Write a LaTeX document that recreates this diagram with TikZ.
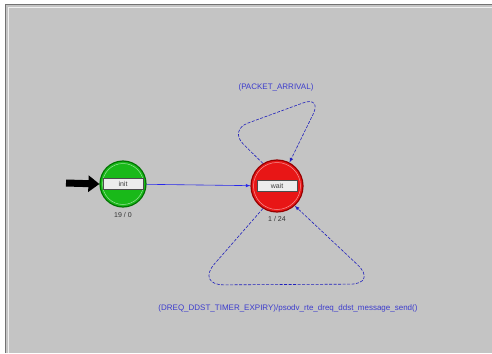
\documentclass[tikz,border=0pt]{standalone}
\usepackage{fontspec}
\setmainfont{Liberation Sans}
\usetikzlibrary{arrows.meta}

\definecolor{canvasGray}{RGB}{196,196,196}
\definecolor{initGreen}{RGB}{25,185,25}
\definecolor{initDark}{RGB}{0,115,0}
\definecolor{waitRed}{RGB}{232,22,22}
\definecolor{waitDark}{RGB}{150,0,0}
\definecolor{transBlue}{RGB}{40,40,235}
\definecolor{textBlue}{RGB}{60,60,205}

\begin{document}
\begin{tikzpicture}[> = latex, x = 1pt, y = -1pt,
	state/.style = {circle, minimum size = #1, inner sep = 0pt, line width = 1.2pt},
	labelbox/.style = {rectangle, draw = black!70, fill = white!85!gray, line width = 0.7pt,
		minimum width = 40pt, minimum height = 11pt, inner sep = 0pt, text = black!75, font = \fontsize{7}{7}\selectfont},
	count/.style = {font = \fontsize{7}{7}\selectfont, text = black!80},
	trans/.style = {transBlue, line width = 0.6pt},
	loopline/.style = {transBlue!80!black, line width = 0.6pt, dashed, dash pattern = on 3pt off 1.5pt},
	translabel/.style = {font = \fontsize{8}{8}\selectfont, text = textBlue, inner sep = 0pt}]

	% Definitions

	\def\W{492}
	\def\H{353}

	% Canvas

	\useasboundingbox (0, 0) rectangle (\W, \H);
	\fill [white] (0, 0) rectangle (\W, \H);
	\fill [canvasGray] (5, 4) rectangle (\W, \H);
	\draw [black!55, line width = 1pt] (5.5, \H) -- (5.5, 4.5) -- (\W, 4.5);
	\draw [white!88!gray, line width = 0.8pt] (8.5, \H) -- (8.5, 7.5) -- (\W, 7.5);

	% States

	\node [state = 46pt, fill = initGreen, draw = initDark] (init) at (123, 184) {};
	\draw [white!55!initGreen, line width = 0.5pt] (init) circle (20.5pt);
	\node [labelbox] (initLabel) at (init) {init};
	\node [count, below = 1pt] (initCount) at (init.south) {19 / 0};

	\node [state = 52pt, fill = waitRed, draw = waitDark] (wait) at (277, 186) {};
	\draw [white!55!waitRed, line width = 0.5pt] (wait) circle (23.5pt);
	\node [labelbox] (waitLabel) at (wait) {wait};
	\node [count, below = 0pt] (waitCount) at (wait.south) {1 / 24};

	% Initial marker

	\coordinate (start) at (66, 183);
	\draw [line width = 7pt, -{Triangle[length = 11pt, width = 16pt]}] (start) -- (init.west);

	% Transitions

	\draw [trans, ->] (init) -- (wait);

	\draw [loopline, rounded corners = 20pt, ->] (wait.122) -- (229, 130) -- (322, 96) -- (wait.62);
	\node [translabel] (arrival) at (276, 87) {(PACKET\_ARRIVAL)};

	\draw [loopline, rounded corners = 28pt, ->] (wait.238) -- (196, 285) -- (378, 284) -- (wait.-48);
	\node [translabel] (expiry) at (288, 308) {(DREQ\_DDST\_TIMER\_EXPIRY)/psodv\_rte\_dreq\_ddst\_message\_send()};

\end{tikzpicture}
\end{document}
